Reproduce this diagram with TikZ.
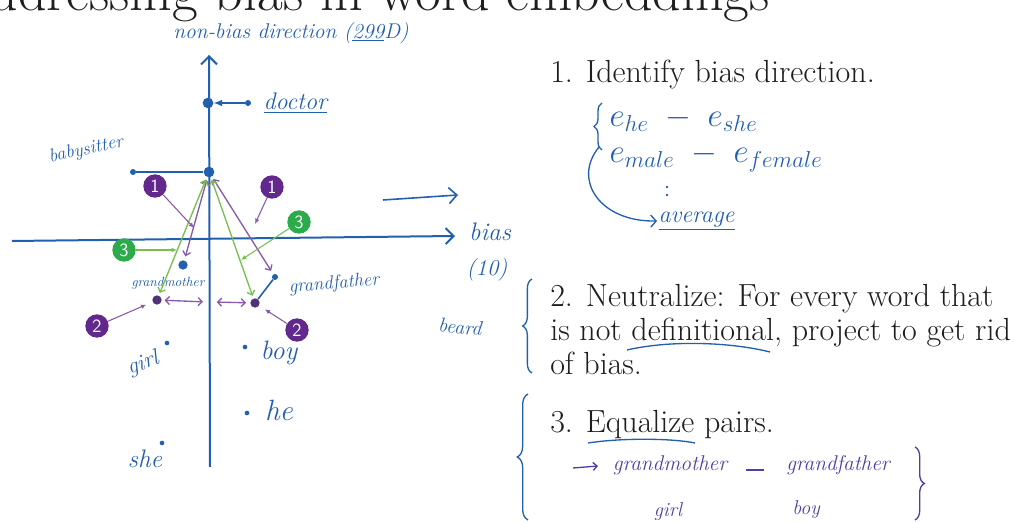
\documentclass[tikz,border=0pt]{standalone}
\usepackage{tikz}
\usetikzlibrary{positioning, arrows.meta, decorations.pathreplacing}
\tikzset{>=latex}
\definecolor{ink}{RGB}{35,95,175}
\definecolor{inkviolet}{RGB}{75,65,165}
\definecolor{badgepurple}{RGB}{98,40,140}
\definecolor{badgegreen}{RGB}{45,170,75}
\definecolor{linegreen}{RGB}{120,190,80}
\definecolor{linepurple}{RGB}{135,90,170}
\definecolor{eqpurple}{RGB}{80,50,120}
\definecolor{slidetext}{RGB}{30,30,30}
\tikzset{
    hand/.style = {text=ink, font=\itshape\fontsize{#1}{#1}\selectfont, inner sep=1pt},
    hand/.default = 15,
    axis/.style = {draw=ink, line width=1.5pt, -{Straight Barb[length=6pt, width=12pt]}},
    inkline/.style = {draw=ink, line width=1.2pt},
    dot/.style = {circle, fill=ink, inner sep=0pt, minimum size=4.5pt},
    bigdot/.style = {circle, fill=ink, inner sep=0pt, minimum size=8pt},
    eqdot/.style = {circle, fill=eqpurple, inner sep=0pt, minimum size=7pt},
    badge/.style = {circle, fill=#1, text=white, inner sep=0pt, minimum size=17.5pt,
                        font=\sffamily\fontsize{14}{14}\selectfont},
    pointer/.style = {draw=#1, line width=0.8pt, -{Latex[length=4pt, width=3.5pt]}},
    pairpurple/.style = {draw=linepurple, line width=1pt, {Straight Barb[length=3pt, width=6pt]}-{Straight Barb[length=3pt, width=6pt]}, shorten <=2pt, shorten >=3pt},
    pairgreen/.style = {draw=linegreen, line width=1pt, {Straight Barb[length=3pt, width=6pt]}-{Straight Barb[length=3pt, width=6pt]}, shorten <=2pt, shorten >=2pt},
    handbrace/.style = {draw=ink, line width=1pt, decorate, decoration={brace, amplitude=#1}},
    handbrace/.default = 6pt,
    slide/.style = {text=slidetext, font=\fontsize{24}{25.5}\selectfont, align=left,
                        inner sep=0pt, anchor=base west},
    title/.style = {text=slidetext, font=\fontsize{42}{44}\selectfont, inner sep=0pt, anchor=base east}
}

\begin{document}
\begin{tikzpicture}[x=0.75pt, y=-0.75pt]
    \useasboundingbox (0,0) rectangle (1014,523);
    \clip (0,0) rectangle (1014,523);
    \node (title) [title] at (770,11) {Addressing bias in word embeddings};

    \coordinate (vbot) at (210,467);
    \coordinate (vtop) at (209,55);
    \coordinate (hleft) at (12,241);
    \coordinate (hright) at (455,236);
    \coordinate (sidea) at (383,200);
    \coordinate (sideb) at (458,195);
    \draw [axis] (vbot) -- (vtop);
    \draw [axis] (hleft) -- (hright);
    \draw [axis, line width=1.2pt] (sidea) -- (sideb);
    \node (nonbias) [hand=16] at (291,33) {non-bias direction (\underline{299}D)};
    \node (bias) [hand=19] at (490,232) {bias};
    \node (dim) [hand=17] at (487,270) {(10)};

    \node (doctorproj) [bigdot] at (208,103) {};
    \node (doctordot) [dot] at (248,103) {};
    \node (doctor) [hand=18, anchor=west] at (262,103) {\underline{doctor}};
    \draw [inkline, ->] (doctordot) -- (doctorproj);

    \node (top) [bigdot] at (209,172) {};
    \node (babydot) [dot] at (133,172) {};
    \node (babysitter) [hand=14, rotate=12] at (86,150) {babysitter};
    \draw [inkline] (babydot) -- (top);

    \node (gm) [dot, minimum size=7pt] at (183,265) {};
    \node (gf) [dot] at (275,277) {};
    \node (gmeq) [eqdot] at (157,300) {};
    \node (gfeq) [eqdot] at (255,303) {};
    \node (gmlabel) [hand=10] at (168,283) {grandmother};
    \node (gflabel) [hand=14, rotate=5] at (334,284) {grandfather};
    \coordinate (midl) at (207,302);
    \coordinate (midr) at (214,302);
    \draw [inkline] (gf) -- (gfeq);
    \draw [pairpurple] (top) -- (gm);
    \draw [pairpurple] (top) -- (gf);
    \draw [pairgreen] (top) -- (gmeq);
    \draw [pairgreen] (top) -- (gfeq);
    \draw [pairpurple] (gmeq) -- (midl);
    \draw [pairpurple] (midr) -- (gfeq);

    \node (onel) [badge=badgepurple] at (155,186) {1};
    \node (oner) [badge=badgepurple] at (272,187) {1};
    \node (threel) [badge=badgegreen] at (124,250) {3};
    \node (threer) [badge=badgegreen] at (299,222) {3};
    \node (twol) [badge=badgepurple] at (97,326) {2};
    \node (twor) [badge=badgepurple] at (297,330) {2};
    \coordinate (onelt) at (194,228);
    \coordinate (onert) at (255,224);
    \coordinate (threelt) at (177,250);
    \coordinate (threert) at (241,260);
    \draw [pointer=linepurple] (onel) -- (onelt);
    \draw [pointer=linepurple] (oner) -- (onert);
    \draw [pointer=linegreen] (threel) -- (threelt);
    \draw [pointer=linegreen] (threer) -- (threert);
    \draw [pointer=linepurple, shorten >=5pt] (twol) -- (gmeq);
    \draw [pointer=linepurple, shorten >=5pt] (twor) -- (gfeq);

    \node (girldot) [dot, minimum size=3.5pt] at (167,343) {};
    \node (girl) [hand=17, rotate=20] at (143,364) {girl};
    \node (boydot) [dot, minimum size=3.5pt] at (245,347) {};
    \node (boy) [hand=20] at (279,353) {boy};
    \node (hedot) [dot, minimum size=3.5pt] at (247,413) {};
    \node (he) [hand=22] at (279,410) {he};
    \node (shedot) [dot, minimum size=3.5pt] at (162,443) {};
    \node (she) [hand=19] at (145,459) {she};
    \node (beard) [hand=15, rotate=-5] at (460,327) {beard};

    \node (step1) [slide] at (550,83) {1. Identify bias direction.};
    \node (step2) [slide] at (550,375) {2. Neutralize: For every word that\\is not definitional, project to get rid\\of bias.};
    \node (step3) [slide] at (550,433) {3. Equalize pairs.};

    \draw [handbrace] (602,150) -- (602,103);
    \node (ehe) [hand=23, anchor=west] at (608,119) {$e_{he}\;-\;e_{she}$};
    \node (emale) [hand=23, anchor=west] at (608,158) {$e_{male}\;-\;e_{female}$};
    \fill [ink] (667,187) circle (1.1pt) (667,195) circle (1.1pt);
    \node (average) [hand=18, anchor=west] at (657,221) {\underline{average}};
    \draw [draw=ink, line width=1pt, -{Straight Barb[length=4pt, width=9pt]}]
        (599,147) .. controls (572,180) and (600,222) .. (average.west);

    \draw [handbrace=7pt] (532,373) -- (532,279);
    \draw [ink, line width=1pt] (627,350) .. controls (670,340) and (730,342) .. (770,352);
    \draw [handbrace=8pt] (528,520) -- (528,394);
    \draw [ink, line width=1pt] (588,443) .. controls (620,438) and (670,438) .. (695,443);

    \coordinate (eqa) at (573,468);
    \coordinate (eqb) at (598,466);
    \coordinate (dasha) at (746,470);
    \coordinate (dashb) at (764,470);
    \node (eqgm) [hand=16, text=inkviolet] at (670,465) {grandmother};
    \node (eqgirl) [hand=15, text=inkviolet] at (668,512) {girl};
    \node (eqgf) [hand=16, text=inkviolet] at (838,465) {grandfather};
    \node (eqboy) [hand=15, text=inkviolet] at (806,510) {boy};
    \draw [draw=inkviolet, line width=1pt, -{Straight Barb[length=3pt, width=6pt]}] (eqa) -- (eqb);
    \draw [draw=inkviolet, line width=1pt] (dasha) -- (dashb);
    \draw [draw=inkviolet, line width=1pt, decorate, decoration={brace, amplitude=7pt}] (915,447) -- (915,520);
\end{tikzpicture}
\end{document}
